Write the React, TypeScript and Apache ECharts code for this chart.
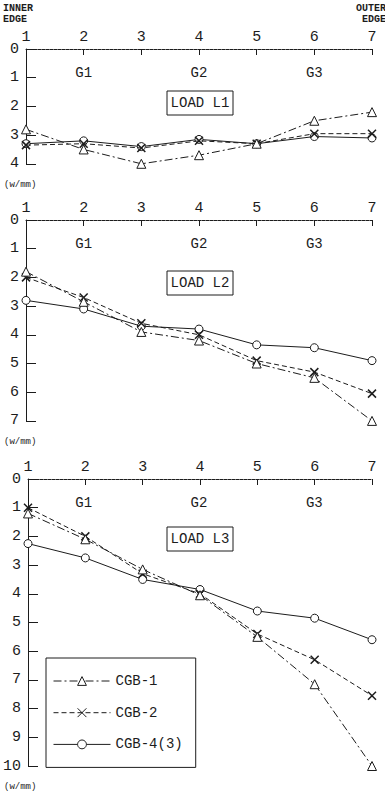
import React, { useEffect, useRef } from "react";
import * as echarts from "echarts";

const positions = [1, 2, 3, 4, 5, 6, 7];
const seriesNames = ["CGB-1", "CGB-2", "CGB-4(3)"];
const loadNames = ["LOAD L1", "LOAD L2", "LOAD L3"];
const groupLabels = ["G1", "G2", "G3"];
const groupPositions = [2, 4, 6];
const yMaxes = [4, 7, 10];

const l1Cgb1 = [2.8, 3.5, 4.0, 3.7, 3.3, 2.5, 2.2];
const l1Cgb2 = [3.35, 3.3, 3.45, 3.2, 3.3, 2.95, 2.95];
const l1Cgb4 = [3.3, 3.2, 3.4, 3.15, 3.3, 3.05, 3.1];
const l2Cgb1 = [1.8, 2.85, 3.9, 4.2, 5.0, 5.5, 7.0];
const l2Cgb2 = [2.0, 2.7, 3.6, 4.0, 4.9, 5.3, 6.05];
const l2Cgb4 = [2.8, 3.1, 3.7, 3.8, 4.35, 4.45, 4.9];
const l3Cgb1 = [1.2, 2.1, 3.15, 4.05, 5.5, 7.15, 10.0];
const l3Cgb2 = [1.0, 2.0, 3.3, 4.0, 5.4, 6.3, 7.55];
const l3Cgb4 = [2.25, 2.75, 3.5, 3.85, 4.6, 4.85, 5.6];

const panels = [
  [l1Cgb1, l1Cgb2, l1Cgb4],
  [l2Cgb1, l2Cgb2, l2Cgb4],
  [l3Cgb1, l3Cgb2, l3Cgb4],
];

const INK = "#1c1c1c";
const FONT = "'Liberation Mono', 'DejaVu Sans Mono', monospace";
const GRID_LEFT = 26;
const GRID_WIDTH = 346;
const UNIT_Y = 28.7;
const gridTops = [49, 220, 479];

const styles = [
  { symbol: "triangle", size: 9, dash: [8, 3, 2, 3] as any },
  { symbol: "path://M0,0L10,10M10,0L0,10", size: 8, dash: [5, 3] as any },
  { symbol: "circle", size: 8, dash: "solid" as any },
];

export default function App() {
  const ref = useRef<HTMLDivElement>(null);
  useEffect(() => {
    if (!ref.current) return;
    const chart = echarts.init(ref.current, null, { renderer: "svg" });

    const grids = gridTops.map((top, i) => ({
      left: GRID_LEFT,
      top,
      width: GRID_WIDTH,
      height: yMaxes[i] * UNIT_Y,
    }));

    const xAxes = gridTops.map((_, i) => ({
      type: "value",
      gridIndex: i,
      position: "top",
      min: 1,
      max: 7,
      interval: 1,
      axisLine: { show: true, lineStyle: { color: INK, width: 1, type: [3, 1] } },
      axisTick: { show: true, inside: true, length: 6, lineStyle: { color: INK } },
      axisLabel: { show: true, margin: 4, color: INK, fontFamily: FONT, fontSize: 15 },
      splitLine: { show: false },
    }));

    const yAxes = gridTops.map((_, i) => ({
      type: "value",
      gridIndex: i,
      inverse: true,
      min: 0,
      max: yMaxes[i],
      interval: 1,
      axisLine: { show: true, lineStyle: { color: INK, width: 1 } },
      axisTick: { show: true, inside: true, length: 10, lineStyle: { color: INK } },
      axisLabel: { show: true, margin: 7, color: INK, fontFamily: FONT, fontSize: 15 },
      splitLine: { show: false },
    }));

    const series: any[] = [];
    panels.forEach((panel, pi) => {
      panel.forEach((vals, si) => {
        const st = styles[si];
        series.push({
          type: "line",
          name: seriesNames[si],
          xAxisIndex: pi,
          yAxisIndex: pi,
          data: positions.map((x, k) => [x, vals[k]]),
          symbol: st.symbol,
          symbolSize: st.size,
          showAllSymbol: true,
          lineStyle: { color: INK, width: 1, type: st.dash },
          itemStyle: { color: "#fff", borderColor: INK, borderWidth: si === 1 ? 1.5 : 1 },
          z: 3 - si,
        });
      });
    });

    const graphics: any[] = [];
    const xToPx = (x: number) => GRID_LEFT + ((x - 1) / 6) * GRID_WIDTH;
    const loadOffsets = [42, 51, 48];
    gridTops.forEach((top, pi) => {
      groupLabels.forEach((g, gi) => {
        graphics.push({
          type: "text",
          x: xToPx(groupPositions[gi]),
          y: top + 24,
          style: { text: g, fill: INK, font: `14px ${FONT}`, align: "center", verticalAlign: "middle" },
        });
      });
      graphics.push({
        type: "rect",
        shape: { x: 167, y: top + loadOffsets[pi], width: 66, height: 24 },
        style: { fill: "#fff", stroke: INK, lineWidth: 1 },
      });
      graphics.push({
        type: "text",
        x: 200,
        y: top + loadOffsets[pi] + 12,
        style: { text: loadNames[pi], fill: INK, font: `14px ${FONT}`, align: "center", verticalAlign: "middle" },
      });
      graphics.push({
        type: "text",
        x: 4,
        y: top + yMaxes[pi] * UNIT_Y + 21,
        style: { text: "(w/mm)", fill: INK, font: `9px ${FONT}`, align: "left", verticalAlign: "middle" },
      });
    });
    graphics.push({
      type: "text",
      x: 3,
      y: 3,
      style: { text: "INNER\nEDGE", fill: INK, font: `bold 10px ${FONT}`, align: "left", verticalAlign: "top", lineHeight: 11 },
    });
    graphics.push({
      type: "text",
      x: 386,
      y: 3,
      style: { text: "OUTER\nEDGE", fill: INK, font: `bold 10px ${FONT}`, align: "right", verticalAlign: "top", lineHeight: 11 },
    });

    chart.setOption({
      animation: false,
      backgroundColor: "#fff",
      grid: grids,
      xAxis: xAxes,
      yAxis: yAxes,
      series,
      legend: {
        show: true,
        orient: "vertical",
        left: 46,
        top: 658,
        data: seriesNames,
        itemWidth: 57,
        itemHeight: 11,
        itemGap: 17.7,
        padding: [16, 13, 16, 7],
        borderColor: INK,
        borderWidth: 1,
        backgroundColor: "#fff",
        selectedMode: false,
        lineStyle: { width: 1 },
        itemStyle: { borderWidth: 1 },
        textStyle: { color: INK, fontFamily: FONT, fontSize: 14 },
      },
      graphic: graphics,
    });
    return () => chart.dispose();
  }, []);
  return (
    <div
      ref={ref}
      style={{ position: "fixed", left: 0, top: 0, width: 385, height: 792, background: "#fff" }}
    />
  );
}
